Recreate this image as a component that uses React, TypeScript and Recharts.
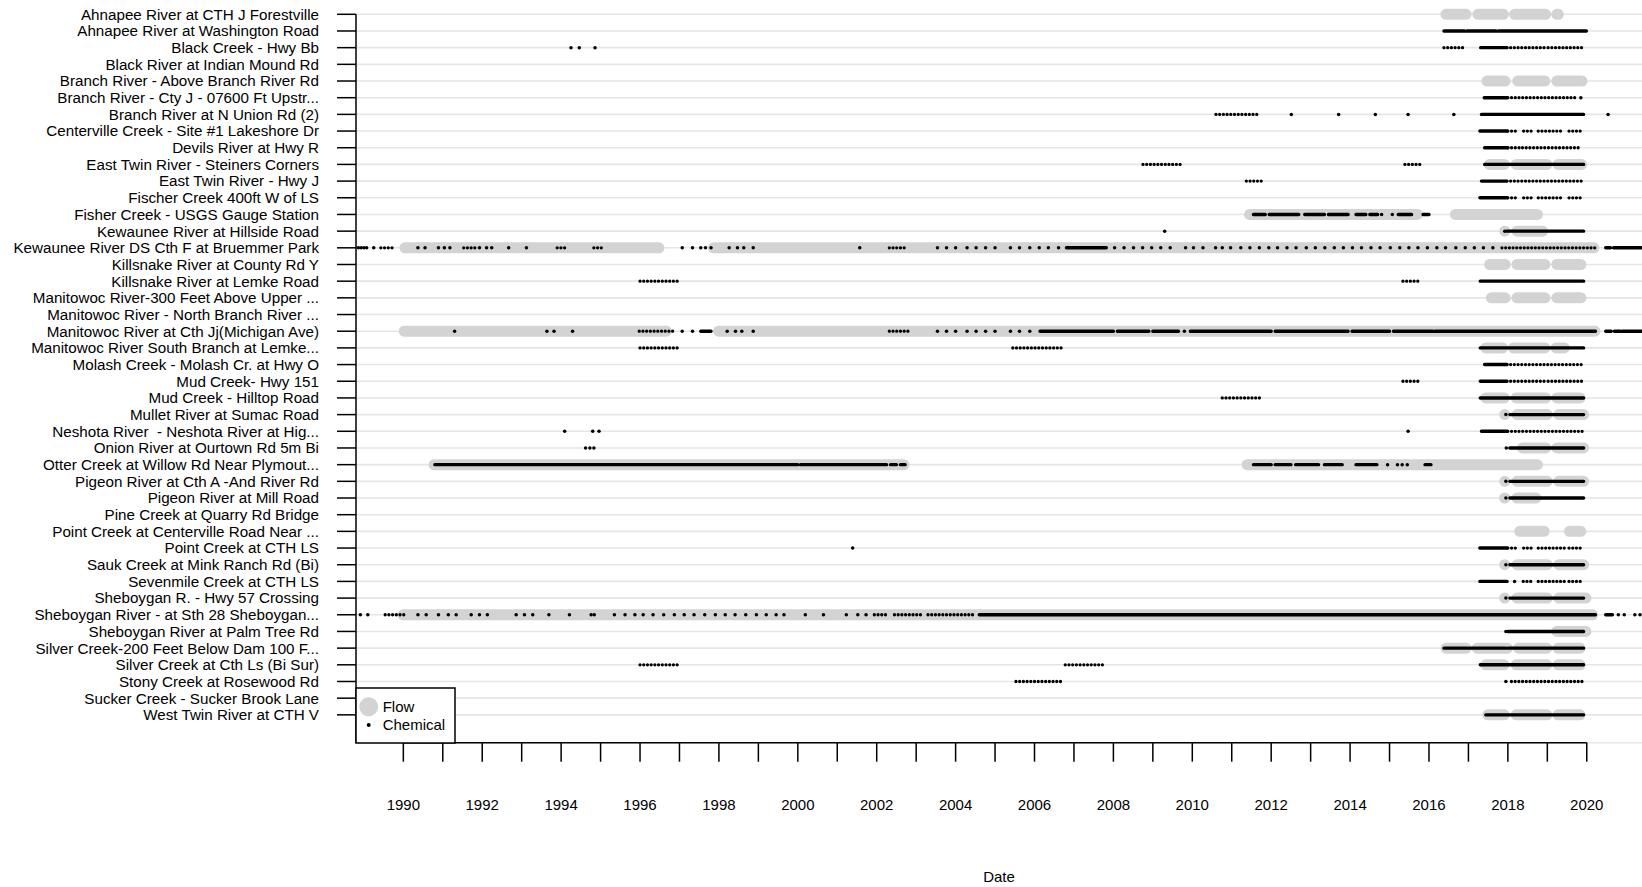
import React from 'react';
import { ComposedChart, Line, Scatter, XAxis, YAxis, CartesianGrid, ReferenceLine } from 'recharts';

const siteNames = [
  'Ahnapee River at CTH J Forestville',
  'Ahnapee River at Washington Road',
  'Black Creek - Hwy Bb',
  'Black River at Indian Mound Rd',
  'Branch River - Above Branch River Rd',
  'Branch River - Cty J - 07600 Ft Upstr...',
  'Branch River at N Union Rd (2)',
  'Centerville Creek - Site #1 Lakeshore Dr',
  'Devils River at Hwy R',
  'East Twin River - Steiners Corners',
  'East Twin River - Hwy J',
  'Fischer Creek 400ft W of LS',
  'Fisher Creek - USGS Gauge Station',
  'Kewaunee River at Hillside Road',
  'Kewaunee River DS Cth F at Bruemmer Park',
  'Killsnake River at County Rd Y',
  'Killsnake River at Lemke Road',
  'Manitowoc River-300 Feet Above Upper ...',
  'Manitowoc River - North Branch River ...',
  'Manitowoc River at Cth Jj(Michigan Ave)',
  'Manitowoc River South Branch at Lemke...',
  'Molash Creek - Molash Cr. at Hwy O',
  'Mud Creek- Hwy 151',
  'Mud Creek - Hilltop Road',
  'Mullet River at Sumac Road',
  'Neshota River\u00a0 - Neshota River at Hig...',
  'Onion River at Ourtown Rd 5m Bi',
  'Otter Creek at Willow Rd Near Plymout...',
  'Pigeon River at Cth A -And River Rd',
  'Pigeon River at Mill Road',
  'Pine Creek at Quarry Rd Bridge',
  'Point Creek at Centerville Road Near ...',
  'Point Creek at CTH LS',
  'Sauk Creek at Mink Ranch Rd (Bi)',
  'Sevenmile Creek at CTH LS',
  'Sheboygan R. - Hwy 57 Crossing',
  'Sheboygan River - at Sth 28 Sheboygan...',
  'Sheboygan River at Palm Tree Rd',
  'Silver Creek-200 Feet Below Dam 100 F...',
  'Silver Creek at Cth Ls (Bi Sur)',
  'Stony Creek at Rosewood Rd',
  'Sucker Creek - Sucker Brook Lane',
  'West Twin River at CTH V',
];

const yearTicks = [
  1990, 1991, 1992, 1993, 1994, 1995, 1996, 1997, 1998, 1999, 2000, 2001, 2002, 2003, 2004, 2005,
  2006, 2007, 2008, 2009, 2010, 2011, 2012, 2013, 2014, 2015, 2016, 2017, 2018, 2019, 2020,
];

// [site row, start, end] of continuous flow records
const flowPeriods: [number, number, number][] = [
  [0, 2016.43, 2016.94], [0, 2017.24, 2017.89], [0, 2018.17, 2018.96], [0, 2019.24, 2019.28],
  [4, 2017.47, 2017.93], [4, 2018.25, 2018.94], [4, 2019.24, 2019.88],
  [9, 2017.53, 2017.91], [9, 2018.21, 2018.99], [9, 2019.27, 2019.87],
  [12, 2011.45, 2015.71], [12, 2016.67, 2018.75],
  [13, 2017.92, 2017.921], [13, 2018.23, 2018.88],
  [14, 1990.04, 1996.48], [14, 1997.86, 2020.18],
  [15, 2017.54, 2017.93], [15, 2018.23, 2018.94], [15, 2019.24, 2019.85],
  [17, 2017.58, 2017.93], [17, 2018.23, 2018.94], [17, 2019.24, 2019.85],
  [19, 1990.02, 1996.67], [19, 1997.99, 2020.21],
  [20, 2017.44, 2017.87], [20, 2018.14, 2018.94], [20, 2019.22, 2019.43],
  [23, 2017.44, 2017.91], [23, 2018.21, 2018.96], [23, 2019.24, 2019.83],
  [24, 2017.92, 2017.921], [24, 2018.23, 2019.0], [24, 2019.29, 2019.92],
  [26, 2018.37, 2018.96], [26, 2019.24, 2019.92],
  [27, 1990.78, 2002.69], [27, 2011.39, 2018.75],
  [28, 2017.92, 2017.921], [28, 2018.23, 2019.0], [28, 2019.29, 2019.92],
  [29, 2017.92, 2017.921], [29, 2018.23, 2018.71],
  [31, 2018.3, 2018.92], [31, 2019.56, 2019.85],
  [33, 2017.92, 2017.921], [33, 2018.23, 2019.0], [33, 2019.29, 2019.92],
  [35, 2017.92, 2017.921], [35, 2018.23, 2019.0], [35, 2019.29, 2019.98],
  [36, 1989.99, 2020.15],
  [37, 2019.24, 2019.98],
  [38, 2016.43, 2016.94], [38, 2017.22, 2017.99], [38, 2018.27, 2018.99], [38, 2019.27, 2019.83],
  [39, 2017.44, 2017.9], [39, 2018.21, 2018.99], [39, 2019.27, 2019.83],
  [42, 2017.49, 2017.91], [42, 2018.21, 2018.99], [42, 2019.27, 2019.83],
];

// [site row, start, end] of dense (near daily/weekly) chemical sampling
const chemRuns: [number, number, number][] = [
  [1, 2016.38, 2016.9], [1, 2016.96, 2017.7], [1, 2017.76, 2019.99],
  [2, 2017.31, 2017.98],
  [5, 2017.4, 2017.98],
  [6, 2017.33, 2019.92],
  [7, 2017.29, 2017.98],
  [8, 2017.41, 2018.0],
  [9, 2017.41, 2019.92],
  [10, 2017.33, 2017.98],
  [11, 2017.29, 2017.98],
  [12, 2011.55, 2011.85], [12, 2011.95, 2012.7], [12, 2012.85, 2013.35], [12, 2013.45, 2013.95],
  [12, 2014.15, 2014.4], [12, 2014.5, 2014.7], [12, 2015.22, 2015.56], [12, 2015.85, 2016.0],
  [13, 2017.97, 2019.92],
  [14, 2006.81, 2007.82], [14, 2020.48, 2020.6], [14, 2020.68, 2021.39],
  [16, 2017.3, 2019.92],
  [19, 1997.54, 1997.8], [19, 2006.14, 2008.0],
  [19, 2008.1, 2008.9], [19, 2009.0, 2009.65], [19, 2009.95, 2012.0], [19, 2012.1, 2013.95],
  [19, 2014.05, 2015.0], [19, 2015.1, 2016.1], [19, 2016.15, 2020.22], [19, 2020.48, 2020.62],
  [19, 2020.7, 2020.85], [19, 2020.9, 2021.39],
  [20, 2017.3, 2019.92],
  [21, 2017.41, 2017.98],
  [22, 2017.3, 2017.98],
  [23, 2017.3, 2019.92],
  [24, 2018.05, 2019.92],
  [25, 2017.33, 2017.98],
  [26, 2018.05, 2019.92],
  [27, 1990.8, 2000.0], [27, 2000.07, 2002.25], [27, 2002.35, 2002.5], [27, 2002.6, 2002.72],
  [27, 2011.55, 2012.0], [27, 2012.1, 2012.5], [27, 2012.62, 2013.2], [27, 2013.35, 2013.8],
  [27, 2014.15, 2014.68], [27, 2015.9, 2016.05],
  [28, 2018.05, 2019.92],
  [29, 2018.05, 2019.92],
  [32, 2017.29, 2017.98],
  [33, 2018.05, 2019.92],
  [34, 2017.29, 2017.98],
  [35, 2018.05, 2019.92],
  [36, 2004.6, 2020.22], [36, 2020.48, 2020.65],
  [37, 2018.0, 2019.92],
  [38, 2016.38, 2016.98], [38, 2017.02, 2017.95], [38, 2018.0, 2019.92],
  [39, 2017.3, 2019.92],
  [42, 2017.44, 2019.92],
];

// [site row, start, end] of roughly monthly chemical sampling
const chemMonthly: [number, number, number][] = [
  [2, 2016.38, 2016.86], [2, 2018.07, 2018.98], [2, 2019.02, 2019.88],
  [5, 2018.0, 2019.74],
  [6, 2010.6, 2011.7],
  [7, 2018.0, 2018.22], [7, 2018.4, 2018.64], [7, 2018.77, 2019.4], [7, 2019.55, 2019.9],
  [8, 2018.0, 2018.3], [8, 2018.37, 2019.85],
  [9, 2008.75, 2009.71], [9, 2015.39, 2015.85],
  [10, 2011.37, 2011.82], [10, 2018.07, 2019.9],
  [11, 2018.0, 2018.22], [11, 2018.4, 2018.64], [11, 2018.77, 2019.4], [11, 2019.55, 2019.9],
  [14, 1989.43, 1989.78], [14, 1991.53, 1991.82], [14, 1993.9, 1994.16], [14, 1994.83, 1995.02],
  [14, 2002.32, 2002.78], [14, 2017.85, 2020.22],
  [16, 1996.0, 1996.96], [16, 2015.34, 2015.81],
  [19, 1995.98, 1996.9], [19, 2002.32, 2002.83],
  [20, 1996.0, 1996.98], [20, 2005.45, 2006.72],
  [21, 2018.07, 2019.92],
  [22, 2015.34, 2015.81], [22, 2018.07, 2018.98], [22, 2019.02, 2019.9],
  [23, 2010.76, 2011.77],
  [25, 2018.0, 2019.92],
  [32, 2018.0, 2018.22], [32, 2018.4, 2018.64], [32, 2018.77, 2019.47], [32, 2019.55, 2019.9],
  [34, 2018.39, 2018.64], [34, 2018.77, 2019.47], [34, 2019.55, 2019.9],
  [36, 1989.54, 1990.06], [36, 2001.94, 2002.3], [36, 2002.45, 2003.2], [36, 2003.3, 2004.5],
  [39, 1996.0, 1996.98], [39, 2006.78, 2007.73],
  [40, 2005.53, 2006.72], [40, 2018.09, 2019.9],
];

// [site row, date] of isolated chemical samples
const chemSamples: [number, number][] = [
  [2, 1994.25], [2, 1994.46], [2, 1994.86],
  [5, 2019.85],
  [6, 2012.51], [6, 2013.71], [6, 2014.64], [6, 2015.47], [6, 2016.63], [6, 2020.54],
  [12, 2014.8], [12, 2015.07],
  [13, 2009.3], [13, 2017.92],
  [14, 1988.86], [14, 1988.93], [14, 1989.0], [14, 1989.07], [14, 1989.25], [14, 1990.37],
  [14, 1990.55], [14, 1990.89], [14, 1991.04], [14, 1991.18], [14, 1991.93], [14, 1992.11],
  [14, 1992.24], [14, 1992.67], [14, 1993.12], [14, 1997.07], [14, 1997.33], [14, 1997.54],
  [14, 1997.66], [14, 1997.8], [14, 1998.26], [14, 1998.47], [14, 1998.63], [14, 1998.87],
  [14, 2001.57], [14, 2003.54], [14, 2003.77], [14, 2004.0], [14, 2004.29], [14, 2004.52],
  [14, 2004.76], [14, 2005.0], [14, 2005.39], [14, 2005.62], [14, 2005.88], [14, 2006.12],
  [14, 2006.35], [14, 2006.61], [14, 2008.03], [14, 2008.27], [14, 2008.51], [14, 2008.74],
  [14, 2008.97], [14, 2009.2], [14, 2009.44], [14, 2009.83], [14, 2010.03], [14, 2010.27],
  [14, 2010.59], [14, 2010.76], [14, 2010.97], [14, 2011.23], [14, 2011.46], [14, 2011.7],
  [14, 2011.94], [14, 2012.16], [14, 2012.4], [14, 2012.63], [14, 2012.89], [14, 2013.12],
  [14, 2013.36], [14, 2013.6], [14, 2013.83], [14, 2014.06], [14, 2014.29], [14, 2014.53],
  [14, 2014.76], [14, 2015.02], [14, 2015.26], [14, 2015.49], [14, 2015.72], [14, 2015.96],
  [14, 2016.2], [14, 2016.42], [14, 2016.68], [14, 2016.92], [14, 2017.15], [14, 2017.38],
  [14, 2017.62],
  [19, 1991.3], [19, 1993.64], [19, 1993.82], [19, 1994.29], [19, 1997.07], [19, 1997.33],
  [19, 1998.21], [19, 1998.42], [19, 1998.58], [19, 1998.87], [19, 2003.54], [19, 2003.77],
  [19, 2004.0], [19, 2004.29], [19, 2004.52], [19, 2004.76], [19, 2005.0], [19, 2005.39],
  [19, 2005.62], [19, 2005.88], [19, 2009.8],
  [24, 2017.95],
  [25, 1994.09], [25, 1994.8], [25, 1994.96], [25, 2015.47],
  [26, 1994.62], [26, 1994.73], [26, 1994.83], [26, 2017.96],
  [27, 2014.95], [27, 2015.2], [27, 2015.32], [27, 2015.45],
  [28, 2017.95],
  [29, 2017.95],
  [32, 2001.39],
  [33, 2017.95],
  [34, 2018.17],
  [35, 2017.95],
  [36, 1988.91], [36, 1989.1], [36, 1990.37], [36, 1990.58], [36, 1990.89], [36, 1991.14],
  [36, 1991.34], [36, 1991.72], [36, 1991.93], [36, 1992.13], [36, 1992.86], [36, 1993.07],
  [36, 1993.28], [36, 1993.69], [36, 1994.21], [36, 1994.76], [36, 1994.84], [36, 1995.35],
  [36, 1995.62], [36, 1995.87], [36, 1996.08], [36, 1996.33], [36, 1996.6], [36, 1996.87],
  [36, 1997.12], [36, 1997.37], [36, 1997.64], [36, 1997.91], [36, 1998.16], [36, 1998.41],
  [36, 1998.68], [36, 1998.95], [36, 1999.2], [36, 1999.45], [36, 1999.65], [36, 2000.19],
  [36, 2000.65], [36, 2001.23], [36, 2001.52], [36, 2001.73], [36, 2020.8], [36, 2020.95],
  [36, 2021.22], [36, 2021.35],
  [37, 2017.95],
  [40, 2017.95],
];

const legendLabels = ['Flow', 'Chemical'];

const X_MIN = 1988.8;
const X_MAX = 2021.4;
const Y_BOTTOM = 43.67;
const rowTicks = siteNames.map((_, i) => i);

type Pt = { x: number; y: number | null };

function toSegments(periods: [number, number, number][]): Pt[] {
  const out: Pt[] = [];
  periods.forEach(([row, s, e]) => {
    out.push({ x: s, y: row }, { x: e, y: row }, { x: e, y: null });
  });
  return out;
}

const flowData = toSegments(flowPeriods);
const runData = toSegments(chemRuns);
const monthlyData = toSegments(chemMonthly);
const sampleData = chemSamples.map(([row, d]) => ({ x: d, y: row }));

const renderDot = (p: any) => <circle cx={p.cx} cy={p.cy} r={1.75} fill="#000" />;

export default function App() {
  return (
    <div
      style={{
        position: 'absolute',
        left: 0,
        top: 0,
        width: 1642,
        height: 887,
        background: '#fff',
        fontFamily: "'Liberation Sans', Arial, sans-serif",
      }}
    >
      <ComposedChart width={1642} height={887} margin={{ top: 14.3, right: 0, bottom: 0, left: 0 }}>
        <CartesianGrid vertical={false} stroke="#e5e5e5" strokeWidth={1.6} />
        <XAxis
          type="number"
          dataKey="x"
          domain={[X_MIN, X_MAX]}
          ticks={yearTicks}
          interval={0}
          tickFormatter={(v: number) => (v % 2 === 0 ? String(v) : '')}
          tickSize={19}
          tickMargin={38}
          height={144.3}
          axisLine={false}
          tickLine={{ stroke: '#000', strokeWidth: 1.5 }}
          tick={{ fill: '#000', fontSize: 15 }}
          label={{ value: 'Date', position: 'insideBottom', offset: 5.5, fill: '#000', fontSize: 15 }}
        />
        <YAxis
          type="number"
          dataKey="y"
          domain={[0, Y_BOTTOM]}
          reversed
          ticks={rowTicks}
          interval={0}
          tickFormatter={(i: number) => siteNames[i] ?? ''}
          width={356}
          tickSize={19}
          tickMargin={18}
          axisLine={{ stroke: '#000', strokeWidth: 1.5 }}
          tickLine={{ stroke: '#000', strokeWidth: 1.5 }}
          tick={{ fill: '#000', fontSize: 15.2 }}
        />
        <ReferenceLine
          segment={[
            { x: 1990, y: Y_BOTTOM },
            { x: 2020, y: Y_BOTTOM },
          ]}
          stroke="#000"
          strokeWidth={1.5}
          ifOverflow="visible"
        />
        <Line
          data={flowData}
          dataKey="y"
          name="Flow"
          stroke="#d3d3d3"
          strokeWidth={11}
          strokeLinecap="round"
          dot={false}
          activeDot={false}
          connectNulls={false}
          isAnimationActive={false}
        />
        <Line
          data={runData}
          dataKey="y"
          name="Chemical"
          stroke="#000"
          strokeWidth={3.4}
          strokeLinecap="round"
          dot={false}
          activeDot={false}
          connectNulls={false}
          isAnimationActive={false}
        />
        <Line
          data={monthlyData}
          dataKey="y"
          name="Chemical monthly"
          stroke="#000"
          strokeWidth={3.3}
          strokeLinecap="round"
          strokeDasharray="0.01 3.7"
          dot={false}
          activeDot={false}
          connectNulls={false}
          isAnimationActive={false}
        />
        <Scatter data={sampleData} name="Chemical samples" shape={renderDot} isAnimationActive={false} />
      </ComposedChart>
      <svg width={102} height={58} style={{ position: 'absolute', left: 355, top: 687 }}>
        <rect x={1} y={1} width={99} height={55} fill="#fff" stroke="#000" strokeWidth={1.5} />
        <circle cx={13.7} cy={19.7} r={9.5} fill="#d3d3d3" />
        <text x={27.7} y={25} fontSize={15} fill="#000">
          {legendLabels[0]}
        </text>
        <circle cx={13.7} cy={38} r={2} fill="#000" />
        <text x={27.7} y={43.4} fontSize={15} fill="#000">
          {legendLabels[1]}
        </text>
      </svg>
    </div>
  );
}
